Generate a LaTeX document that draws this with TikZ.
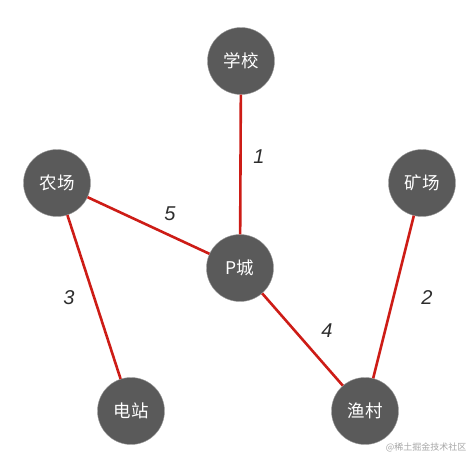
\documentclass[tikz,border=0pt]{standalone}
\usepackage{fontspec}
\setmainfont{Liberation Sans}
\newfontfamily\cjk{Noto Sans CJK SC}
\usetikzlibrary{positioning}
\definecolor{nodegray}{RGB}{90,90,90}
\definecolor{roadred}{RGB}{205,28,22}
\definecolor{numgray}{RGB}{45,45,45}

\begin{document}
\begin{tikzpicture}[x=1pt,y=-1pt,
    place/.style={circle,fill=nodegray,draw=nodegray!60!white,line width=0.4pt,
      minimum size=67pt,inner sep=0pt,text=white,font=\cjk\fontsize{17.5}{17.5}\selectfont},
    road/.style={draw=roadred,line width=2.6pt},
    weight/.style={font=\itshape\fontsize{20}{20}\selectfont,text=numgray},
    wmark/.style={font=\cjk\fontsize{9}{9}\selectfont,text=gray!70}
  ]
    \useasboundingbox (0,0) rectangle (472,458);

    \node[place] (school) at (241,61) {学校};
    \node[place] (farm) at (57,183) {农场};
    \node[place] (mine) at (422,183) {矿场};
    \node[place] (city) at (240,268) {P城};
    \node[place] (power) at (131,411) {电站};
    \node[place] (fish) at (365,411) {渔村};

    % roads with weights
    \draw[road] (school) -- (city);
    \draw[road] (farm) -- (city);
    \draw[road] (farm) -- (power);
    \draw[road] (city) -- (fish);
    \draw[road] (mine) -- (fish);

    \node[weight] (w1) at (259,157) {1};
    \node[weight] (w5) at (170,214) {5};
    \node[weight] (w3) at (69,298) {3};
    \node[weight] (w4) at (327,331) {4};
    \node[weight] (w2) at (427,298) {2};

    \node[wmark,anchor=east] (wm) at (470,447) {@稀土掘金技术社区};
  \end{tikzpicture}
\end{document}
